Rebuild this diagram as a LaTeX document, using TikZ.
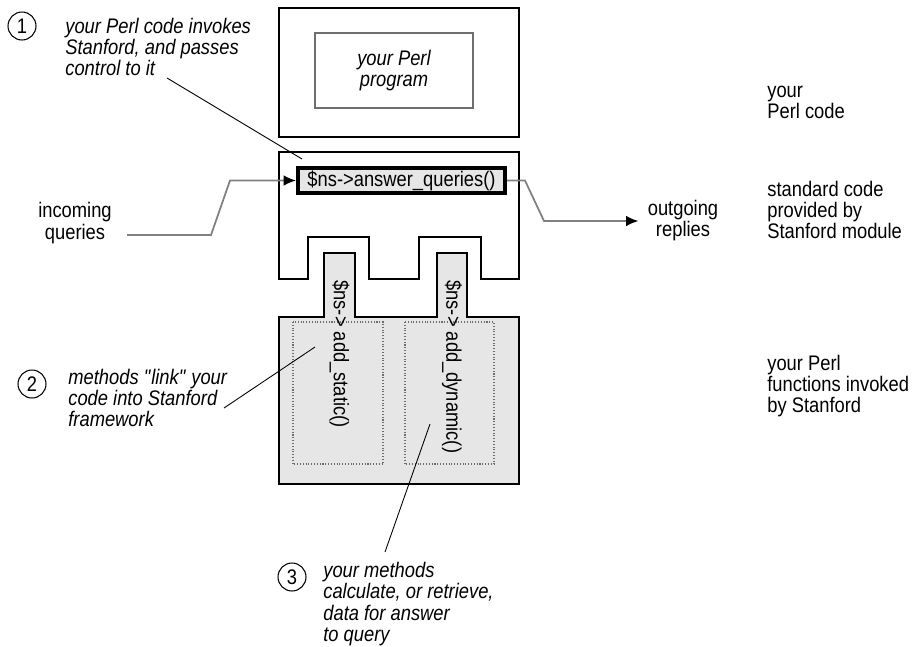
\documentclass[tikz,border=0pt]{standalone}
\usepackage{fontspec}
\setmainfont[FakeStretch=0.87]{Liberation Sans}
\usepackage{xcolor}
\usepackage{tikz}
\usetikzlibrary{arrows.meta, positioning}
\definecolor{shade}{RGB}{230,230,230}
\definecolor{wire}{RGB}{128,128,128}
\definecolor{dots}{RGB}{110,110,110}

\begin{document}
\begin{tikzpicture}[x=0.02cm, y=-0.02cm,
  every node/.style={font=\fontsize{12}{12}\selectfont, inner sep=0pt},
  tag/.style={circle, draw, line width=0.6pt, minimum size=0.56cm},
  note/.style={align=left, anchor=west, font=\fontsize{12}{12}\selectfont\itshape},
  side/.style={align=left, anchor=west},
  feed/.style={wire, line width=1pt, -{Latex[black, length=7pt, width=6pt]}},
  lead/.style={black, line width=0.5pt},
  frame/.style={line width=1.2pt}]
\useasboundingbox (0,0) rectangle (918,646);
% Top box: the Perl program
\draw[frame] (279,8) rectangle (519,137);
\draw[dots, line width=0.6pt] (315,33) rectangle (473,108);
\node[align=center, font=\fontsize{12}{12}\selectfont\itshape] (prog) at (394,71) {your Perl\\program};
% Middle box: Stanford module, with two notches
\draw[frame] (279,152) -- (519,152) -- (519,279) -- (481,279) -- (481,237)
  -- (419,237) -- (419,279) -- (369,279) -- (369,237) -- (308,237)
  -- (308,279) -- (279,279) -- cycle;
\node[draw, line width=2pt, fill=shade, minimum width=4.15cm, minimum height=0.51cm]
  (aq) at (401.5,180.5) {\$ns->answer\_queries()};
% Bottom box: user methods, with two tabs
\filldraw[frame, fill=shade] (279,317) -- (324,317) -- (324,253) -- (355,253)
  -- (355,317) -- (437,317) -- (437,253) -- (467,253) -- (467,317)
  -- (519,317) -- (519,484) -- (279,484) -- cycle;
\draw[dots, densely dotted, line width=0.6pt] (293,322) rectangle (383,464);
\draw[dots, densely dotted, line width=0.6pt] (405,322) rectangle (494,464);
\node[rotate=-90, anchor=west] (mstatic) at (339.5,280) {\$ns-> add\_static()};
\node[rotate=-90, anchor=west] (mdyn) at (452,280) {\$ns-> add\_dynamic()};
% Queries in and replies out
\node[align=center] (inq) at (75,223) {incoming\\queries};
\node[align=center] (outr) at (683,221) {outgoing\\replies};
\coordinate (inbend1) at (211,235);
\coordinate (inbend2) at (230,180.5);
\coordinate (outbend1) at (525,180.5);
\coordinate (outbend2) at (544,221);
\draw[feed] ([xshift=0.3cm, yshift=-0.24cm]inq.east) -- (inbend1) -- (inbend2) -- (aq.west);
\draw[feed] (aq.east) -- (outbend1) -- (outbend2) -- ([xshift=-0.18cm]outr.west);
% Right-hand captions
\node[side] (capprog) at (767,102) {your\\Perl code};
\node[side] (capmod) at (767,210) {standard code\\provided by\\Stanford module};
\node[side] (capfun) at (767,386) {your Perl\\functions invoked\\by Stanford};
% Numbered callouts
\node[tag] (c1) at (22,26) {1};
\node[note] (n1) at (65,47) {your Perl code invokes\\Stanford, and passes\\control to it};
\node[tag] (c2) at (32,384) {2};
\node[note] (n2) at (68,398) {methods \textquotedbl link\textquotedbl{} your\\code into Stanford\\framework};
\node[tag] (c3) at (292,577) {3};
\node[note] (n3) at (323,604) {your methods\\calculate, or retrieve,\\data for answer\\to query};
% Leader lines
\coordinate (l1a) at (167,78);
\coordinate (l1b) at (302,159);
\coordinate (l2a) at (224,408);
\coordinate (l2b) at (315,347);
\coordinate (l3a) at (385,552);
\coordinate (l3b) at (430,424);
\draw[lead] (l1a) -- (l1b);
\draw[lead] (l2a) -- (l2b);
\draw[lead] (l3a) -- (l3b);
\end{tikzpicture}
\end{document}
